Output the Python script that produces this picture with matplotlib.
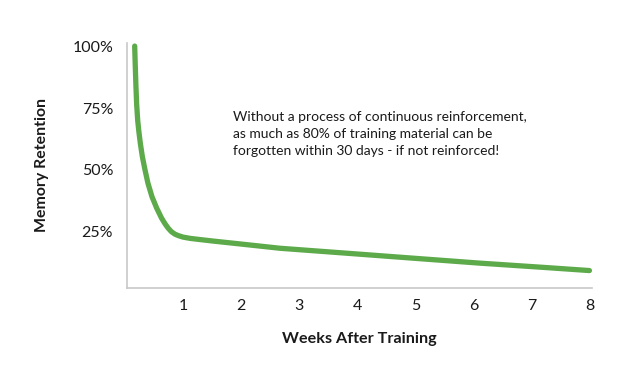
import matplotlib
matplotlib.use('Agg')
import matplotlib.pyplot as plt

# 값
weeks = [0.168, 0.178, 0.19, 0.202, 0.22, 0.24, 0.265, 0.30, 0.346, 0.397,
         0.466, 0.547, 0.63, 0.69, 0.745, 0.80, 0.86, 0.92, 1.0, 1.12,
         1.26, 1.52, 2.0, 2.67, 3.82, 4.96, 6.11, 7.26, 8.0]
retention = [100, 92, 83.5, 76.5, 70, 65.5, 60.8, 55.4, 50, 44.6,
             39.2, 34.6, 30.6, 28.3, 26.5, 25.1, 24.1, 23.5, 22.9, 22.4,
             22.0, 21.3, 20.1, 18.4, 16.4, 14.4, 12.4, 10.6, 9.4]
x_ticks = [1, 2, 3, 4, 5, 6, 7, 8]
y_ticks = [25, 50, 75, 100]
y_labels = ['25%', '50%', '75%', '100%']
note = ('Without a process of continuous reinforcement,\n'
        'as much as 80% of training material can be\n'
        'forgotten within 30 days - if not reinforced!')

GREEN = '#5DAA4B'
GREY = '#C8C8C8'
TEXT = '#1A1A1A'

plt.rcParams['font.family'] = ['Lato', 'DejaVu Sans']

fig = plt.figure(figsize=(6.37, 3.78), dpi=100)
ax = fig.add_axes([0.1994, 0.239, 0.7296, 0.647])

ax.plot(weeks, retention, color=GREEN, linewidth=3.8,
        solid_capstyle='round', solid_joinstyle='round')

ax.set_xlim(0.036, 8.04)
ax.set_ylim(2.5, 101.2)

ax.set_xticks(x_ticks)
ax.set_xticklabels([str(t) for t in x_ticks])
ax.set_yticks(y_ticks)
ax.set_yticklabels(y_labels)
ax.tick_params(length=0, labelsize=11.5, colors=TEXT)
ax.tick_params(axis='x', pad=8)
ax.tick_params(axis='y', pad=10)

for s in ['top', 'right']:
    ax.spines[s].set_visible(False)
for s in ['left', 'bottom']:
    ax.spines[s].set_color(GREY)
    ax.spines[s].set_linewidth(1.2)

ax.set_xlabel('Weeks After Training', fontsize=11.6, fontweight='bold',
              color=TEXT, labelpad=14)
ax.set_ylabel('Memory Retention', fontsize=11.4, fontweight='bold',
              color=TEXT, labelpad=17)

fig.text(233 / 637, 1 - 111 / 378, note, fontsize=10, color=TEXT,
         ha='left', va='top', linespacing=1.5)

fig.savefig('out.png', dpi=100, facecolor='white')
